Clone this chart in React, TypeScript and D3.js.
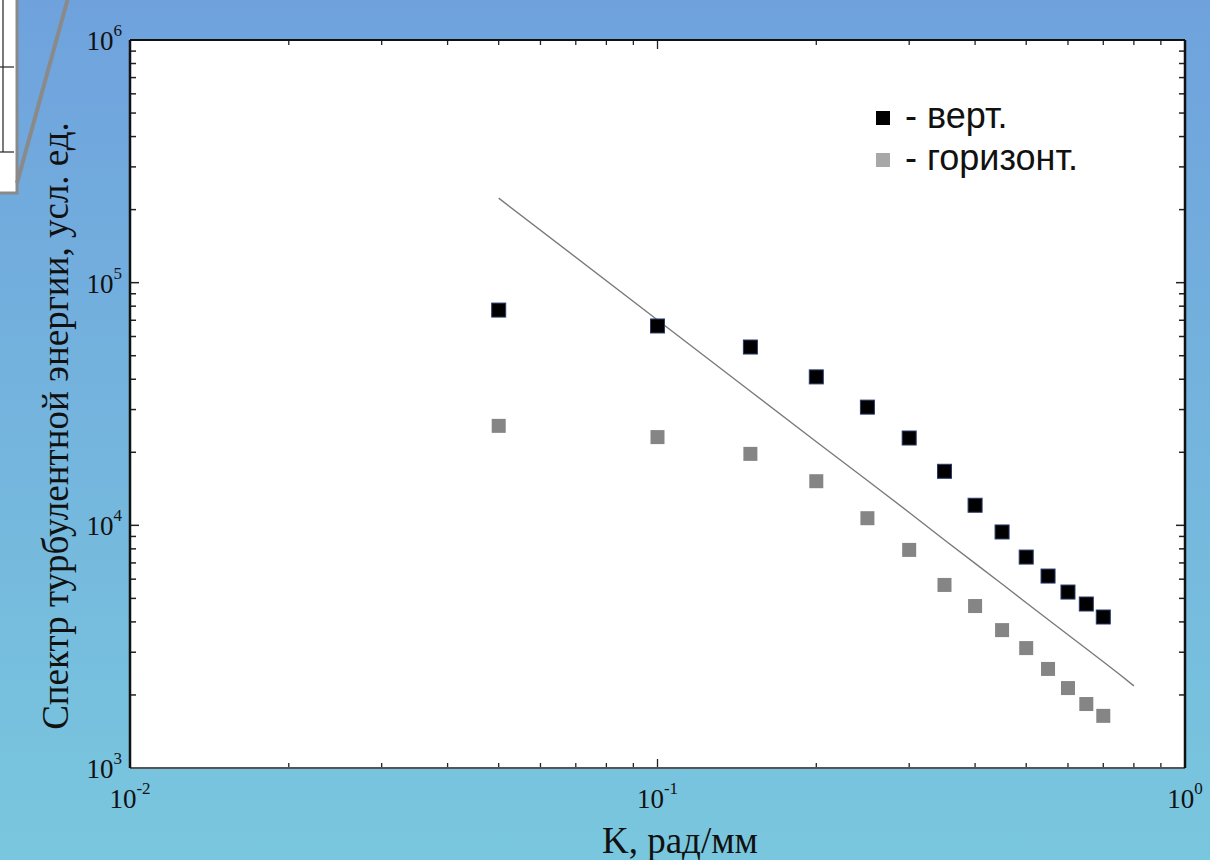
import React, { useEffect, useRef } from 'react';
import * as d3 from 'd3';

// wave numbers, rad/mm
const kValues = [0.05, 0.1, 0.15, 0.2, 0.25, 0.3, 0.35, 0.4, 0.45, 0.5, 0.55, 0.6, 0.65, 0.7];
// vertical component
const vertValues = [77100, 66300, 54300, 40900, 30700, 22900, 16700, 12100, 9390, 7400, 6180, 5310, 4740, 4190];
// horizontal component
const horizValues = [25700, 23100, 19700, 15200, 10700, 7920, 5680, 4650, 3700, 3120, 2560, 2135, 1835, 1640];
// reference line (-5/3 slope)
const lineK = [0.05, 0.1, 0.15, 0.2, 0.25, 0.3, 0.35, 0.4, 0.45, 0.5, 0.55, 0.6, 0.65, 0.7, 0.75, 0.8];
const lineValues = [223000, 70200, 35700, 22100, 15300, 11300, 8700, 6970, 5730, 4800, 4090, 3540, 3100, 2740, 2440, 2180];

const xTickExps = [-2, -1, 0];
const yTickExps = [3, 4, 5, 6];
const legendItems = ['- верт.', '- горизонт.'];

const App = () => {
  const chartRef = useRef<SVGSVGElement>(null);

  useEffect(() => {
    const width = 1210;
    const height = 860;
    const margin = { top: 40, right: 25, bottom: 92, left: 130 };
    const plotW = width - margin.left - margin.right;
    const plotH = height - margin.top - margin.bottom;

    const root = d3.select(chartRef.current);
    root.selectAll('*').remove();

    // background gradient
    const defs = root.append('defs');
    const grad = defs.append('linearGradient')
      .attr('id', 'bg').attr('x1', 0).attr('y1', 0).attr('x2', 0).attr('y2', 1);
    grad.append('stop').attr('offset', '0%').attr('stop-color', '#6fa2dd');
    grad.append('stop').attr('offset', '100%').attr('stop-color', '#79c7de');
    root.append('rect').attr('width', width).attr('height', height).attr('fill', 'url(#bg)');

    // piece of an inset in the top-left corner
    root.append('rect')
      .attr('x', -10).attr('y', -10).attr('width', 27).attr('height', 203)
      .attr('fill', '#fff').attr('stroke', '#8a8a8a').attr('stroke-width', 3);
    root.append('line').attr('x1', 3).attr('x2', 3).attr('y1', 0).attr('y2', 152)
      .attr('stroke', '#222').attr('stroke-width', 1.2);
    [67, 152].forEach(y => {
      root.append('line').attr('x1', 0).attr('x2', 14).attr('y1', y).attr('y2', y)
        .attr('stroke', '#222').attr('stroke-width', 1.2);
    });
    root.append('line').attr('x1', 68).attr('y1', -2).attr('x2', 17).attr('y2', 183)
      .attr('stroke', '#8a8a8a').attr('stroke-width', 4);

    const svg = root.append('g').attr('transform', `translate(${margin.left},${margin.top})`);

    const x = d3.scaleLog().domain([0.01, 1]).range([0, plotW]);
    const y = d3.scaleLog().domain([1e3, 1e6]).range([plotH, 0]);

    svg.append('rect').attr('width', plotW).attr('height', plotH).attr('fill', '#fff');

    // inward ticks on all four sides
    const xTicks = x.ticks();
    const yTicks = y.ticks();
    const isMajor = (v: number) => Math.abs(Math.log10(v) - Math.round(Math.log10(v))) < 1e-6;
    xTicks.forEach(t => {
      const len = isMajor(t) ? 9 : 5;
      svg.append('line').attr('x1', x(t)).attr('x2', x(t)).attr('y1', plotH).attr('y2', plotH - len)
        .attr('stroke', '#222').attr('stroke-width', 1.3);
      svg.append('line').attr('x1', x(t)).attr('x2', x(t)).attr('y1', 0).attr('y2', len)
        .attr('stroke', '#222').attr('stroke-width', 1.3);
    });
    yTicks.forEach(t => {
      const len = isMajor(t) ? 9 : 6;
      svg.append('line').attr('x1', 0).attr('x2', len).attr('y1', y(t)).attr('y2', y(t))
        .attr('stroke', '#222').attr('stroke-width', 1.5);
      svg.append('line').attr('x1', plotW).attr('x2', plotW - len).attr('y1', y(t)).attr('y2', y(t))
        .attr('stroke', '#222').attr('stroke-width', 1.5);
    });

    // frame
    svg.append('line').attr('x1', 0).attr('x2', plotW).attr('y1', 0).attr('y2', 0)
      .attr('stroke', '#111').attr('stroke-width', 2);
    svg.append('line').attr('x1', 0).attr('x2', plotW).attr('y1', plotH).attr('y2', plotH)
      .attr('stroke', '#555').attr('stroke-width', 2);
    svg.append('line').attr('x1', 0).attr('x2', 0).attr('y1', 0).attr('y2', plotH)
      .attr('stroke', '#111').attr('stroke-width', 2.5);
    svg.append('line').attr('x1', plotW).attr('x2', plotW).attr('y1', 0).attr('y2', plotH)
      .attr('stroke', '#111').attr('stroke-width', 2.5);

    // tick labels
    const serif = '"Liberation Serif", "DejaVu Serif", serif';
    xTickExps.forEach(e => {
      const t = svg.append('text')
        .attr('x', x(Math.pow(10, e))).attr('y', plotH + 40)
        .attr('text-anchor', 'middle')
        .attr('font-family', serif).attr('font-size', 27).attr('fill', '#111');
      t.append('tspan').text('10');
      t.append('tspan').attr('dy', -14).attr('font-size', 17).text(String(e));
    });
    yTickExps.forEach(e => {
      const t = svg.append('text')
        .attr('x', -8).attr('y', y(Math.pow(10, e)) + 10)
        .attr('text-anchor', 'end')
        .attr('font-family', serif).attr('font-size', 27).attr('fill', '#111');
      t.append('tspan').text('10');
      t.append('tspan').attr('dy', -14).attr('font-size', 17).text(String(e));
    });

    // axis titles
    root.append('text')
      .attr('x', 680).attr('y', 853)
      .attr('text-anchor', 'middle')
      .attr('font-family', serif).attr('font-size', 37).attr('fill', '#111')
      .text('K, рад/мм');
    root.append('text')
      .attr('transform', 'translate(68,426) rotate(-90)')
      .attr('text-anchor', 'middle')
      .attr('font-family', serif).attr('font-size', 37).attr('fill', '#111')
      .text('Спектр турбулентной энергии, усл. ед.');

    // reference line
    const line = d3.line<number>()
      .x((_, i) => x(lineK[i]))
      .y(d => y(d));
    svg.append('path')
      .datum(lineValues)
      .attr('d', line)
      .attr('fill', 'none')
      .attr('stroke', '#7a7a7a')
      .attr('stroke-width', 1.4);

    // markers
    const size = 14;
    svg.selectAll('rect.vert')
      .data(vertValues)
      .enter()
      .append('rect')
      .attr('class', 'vert')
      .attr('x', (_, i) => x(kValues[i]) - size / 2)
      .attr('y', d => y(d) - size / 2)
      .attr('width', size).attr('height', size)
      .attr('fill', '#000').attr('stroke', '#2a3a6a').attr('stroke-width', 1);

    svg.selectAll('rect.horiz')
      .data(horizValues)
      .enter()
      .append('rect')
      .attr('class', 'horiz')
      .attr('x', (_, i) => x(kValues[i]) - size / 2)
      .attr('y', d => y(d) - size / 2)
      .attr('width', size).attr('height', size)
      .attr('fill', '#858585');

    // legend
    const legendColors = ['#000', '#a8a8a8'];
    legendItems.forEach((label, i) => {
      const ly = 118 + i * 42;
      root.append('rect')
        .attr('x', 876).attr('y', ly - 7).attr('width', 14).attr('height', 14)
        .attr('fill', legendColors[i]);
      root.append('text')
        .attr('x', 905).attr('y', ly + 10)
        .attr('font-family', '"Liberation Sans", Arial, sans-serif')
        .attr('font-size', 36).attr('fill', '#111')
        .text(label);
    });
  }, []);

  return (
    <svg
      ref={chartRef}
      width={1210}
      height={860}
      style={{ position: 'absolute', left: 0, top: 0 }}
    />
  );
};

export default App;
